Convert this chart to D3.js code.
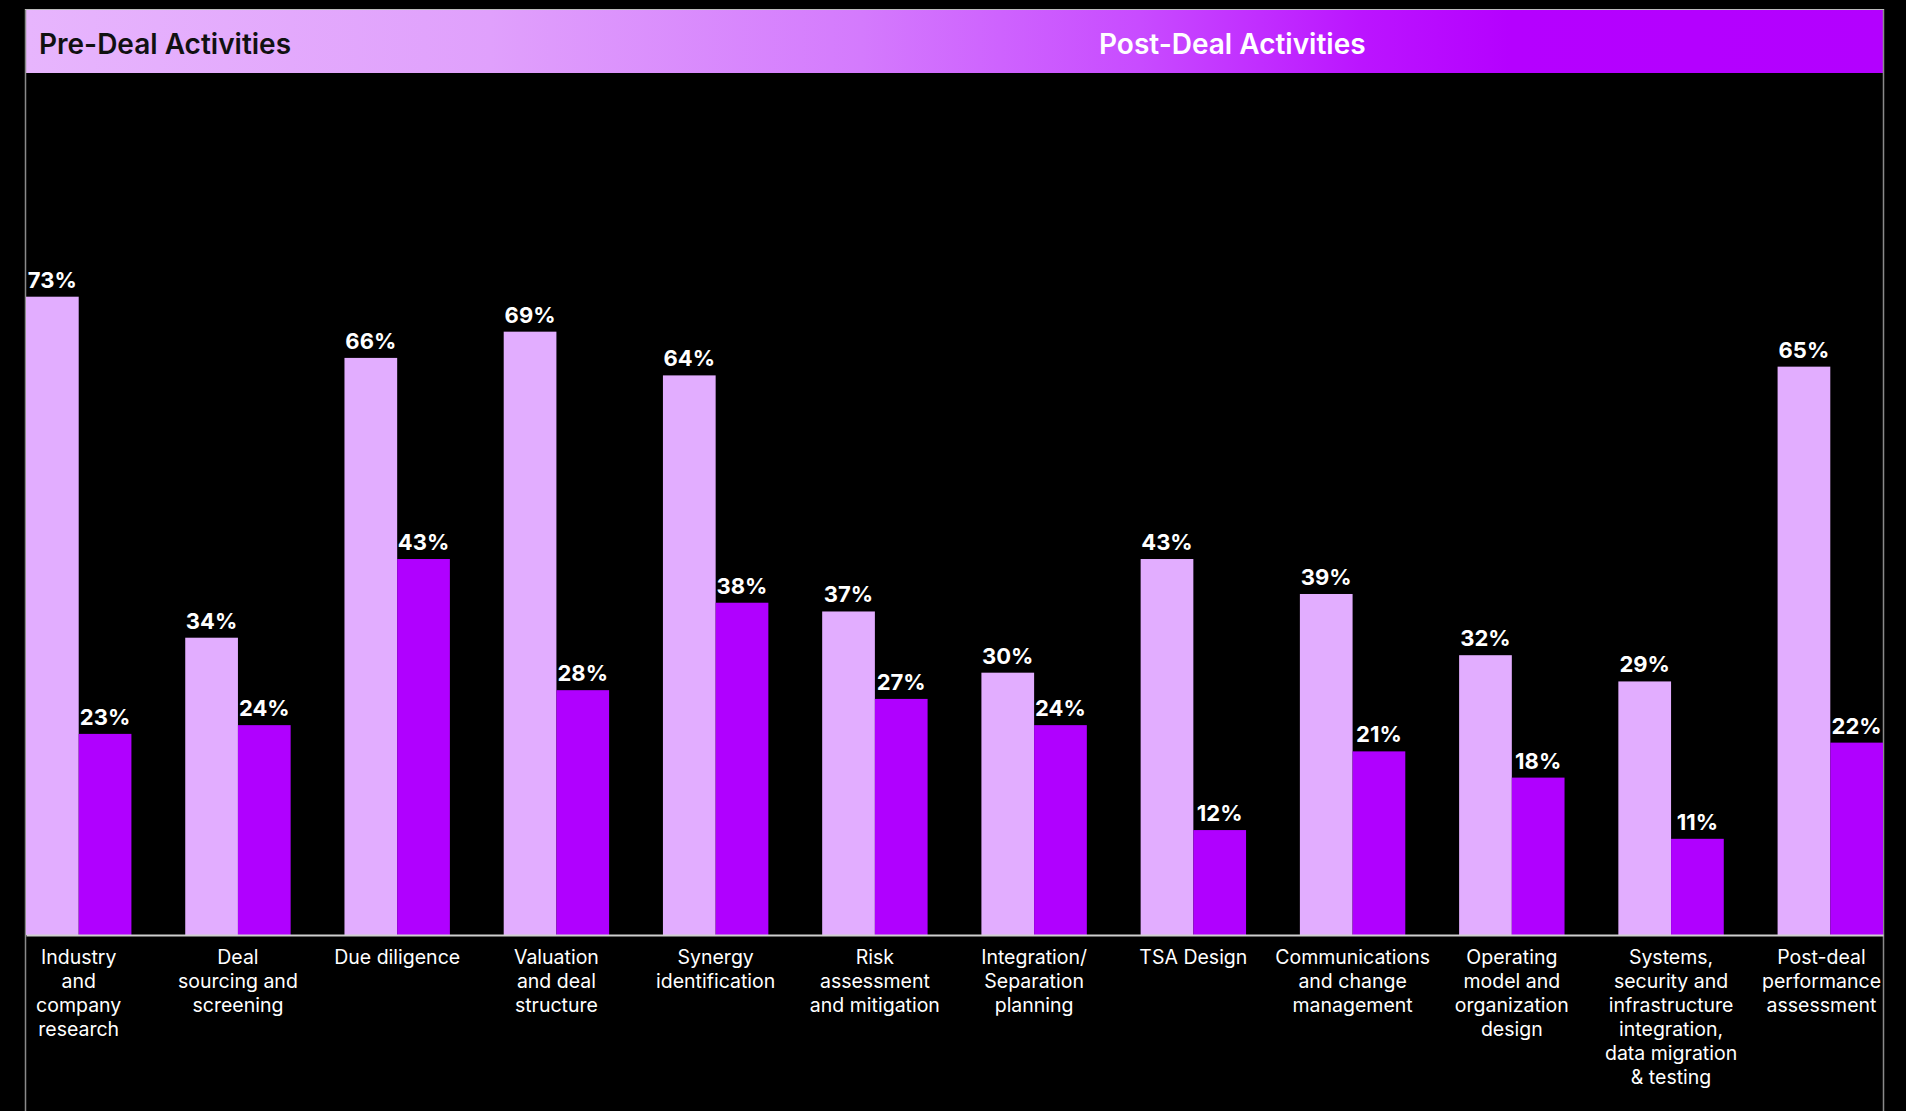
<!DOCTYPE html>
<html>
<head>
<meta charset="utf-8">
<script src="https://cdn.jsdelivr.net/npm/d3@7"></script>
<style>
  html, body { margin: 0; padding: 0; background: #000; }
  svg { display: block; }
</style>
</head>
<body>
<script>
// data
var categories = [
  ["Industry", "and", "company", "research"],
  ["Deal", "sourcing and", "screening"],
  ["Due diligence"],
  ["Valuation", "and deal", "structure"],
  ["Synergy", "identification"],
  ["Risk", "assessment", "and mitigation"],
  ["Integration/", "Separation", "planning"],
  ["TSA Design"],
  ["Communications", "and change", "management"],
  ["Operating", "model and", "organization", "design"],
  ["Systems,", "security and", "infrastructure", "integration,", "data migration", "& testing"],
  ["Post-deal", "performance", "assessment"]
];
var seriesA = [73, 34, 66, 69, 64, 37, 30, 43, 39, 32, 29, 65];
var seriesB = [23, 24, 43, 28, 38, 27, 24, 12, 21, 18, 11, 22];
var seriesNames = ["a", "b"];
var headerLabels = ["Pre-Deal Activities", "Post-Deal Activities"];

var width = 1906,
	height = 1111;
var left = 26, right = 1883, base = 935;
var colA = "#e2adff", colB = "#b000ff";
var fontFam = "Inter, 'Noto Sans', sans-serif";

var svg = d3.select("body").append("svg")
	.attr("width", width)
	.attr("height", height);

var ids = categories.map(function(d, i) { return i; });

var x = d3.scaleBand()
	.domain(ids)
	.range([left, right])
	.paddingInner(0.338)
	.paddingOuter(0);

var xSub = d3.scaleBand()
	.domain(seriesNames)
	.range([0, x.bandwidth()]);

var y = d3.scaleLinear()
	.domain([0, 73])
	.range([base, 296.7]);

// header gradient
var defs = svg.append("defs");
var grad = defs.append("linearGradient")
	.attr("id", "hdr")
	.attr("x1", "0%").attr("x2", "100%")
	.attr("y1", "0%").attr("y2", "0%");
[["0%", "#e7b5fd"], ["25%", "#e0a0fc"], ["45%", "#d47afd"], ["60%", "#c84bff"], ["72%", "#bb14ff"], ["80%", "#b500ff"], ["100%", "#b300ff"]]
	.forEach(function(s) {
		grad.append("stop").attr("offset", s[0]).attr("stop-color", s[1]);
	});

svg.append("rect")
	.attr("x", left)
	.attr("y", 10)
	.attr("width", right - left)
	.attr("height", 63)
	.attr("fill", "url(#hdr)");

// frame lines
svg.append("line")
	.attr("x1", left - 0.5).attr("x2", left - 0.5)
	.attr("y1", 9).attr("y2", height)
	.attr("stroke", "#8a8a8a").attr("stroke-width", 1.5);
svg.append("line")
	.attr("x1", right + 0.5).attr("x2", right + 0.5)
	.attr("y1", 9).attr("y2", height)
	.attr("stroke", "#8a8a8a").attr("stroke-width", 1.5);
svg.append("line")
	.attr("x1", left - 1).attr("x2", right + 1)
	.attr("y1", 9.5).attr("y2", 9.5)
	.attr("stroke", "#bbb").attr("stroke-width", 1);

svg.append("text")
	.attr("x", 39)
	.attr("y", 54)
	.attr("fill", "#111")
	.style("font-family", fontFam)
	.style("font-size", "28px")
	.style("font-weight", 600)
	.text(headerLabels[0]);

svg.append("text")
	.attr("x", 1099)
	.attr("y", 54)
	.attr("fill", "#fff")
	.style("font-family", fontFam)
	.style("font-size", "28px")
	.style("font-weight", 600)
	.text(headerLabels[1]);

// bars
var rows = ids.map(function(i) {
	return { id: i, vals: [{ k: "a", v: seriesA[i] }, { k: "b", v: seriesB[i] }] };
});

var group = svg.selectAll(".grp")
	.data(rows)
	.enter().append("g")
	.attr("class", "grp")
	.attr("transform", function(d) { return "translate(" + x(d.id) + ",0)"; });

group.selectAll("rect")
	.data(function(d) { return d.vals; })
	.enter().append("rect")
	.attr("x", function(d) { return xSub(d.k); })
	.attr("width", xSub.bandwidth())
	.attr("y", function(d) { return y(d.v); })
	.attr("height", function(d) { return base - y(d.v); })
	.attr("fill", function(d) { return d.k === "a" ? colA : colB; });

group.selectAll(".val")
	.data(function(d) { return d.vals; })
	.enter().append("text")
	.attr("class", "val")
	.attr("x", function(d) { return xSub(d.k) + xSub.bandwidth() / 2; })
	.attr("y", function(d) { return y(d.v) - 9; })
	.attr("text-anchor", "middle")
	.attr("fill", "#fff")
	.style("font-family", fontFam)
	.style("font-size", "22px")
	.style("font-weight", 700)
	.text(function(d) { return d.v + "%"; });

// axis with multi-line category labels
var axis = svg.append("g")
	.attr("transform", "translate(0," + base + ")")
	.call(d3.axisBottom(x).tickSize(0).tickSizeOuter(0).tickFormat(""));

axis.select(".domain")
	.attr("stroke", "#cfcfcf")
	.attr("stroke-width", 2);

axis.selectAll(".tick text").remove();

axis.selectAll(".tick").each(function(id) {
	var t = d3.select(this).append("text")
		.attr("text-anchor", "middle")
		.attr("fill", "#fff")
		.style("font-family", fontFam)
		.style("font-size", "19.5px")
		.style("font-weight", 400);
	categories[id].forEach(function(line, j) {
		t.append("tspan")
			.attr("x", 0)
			.attr("y", 28.5 + j * 24)
			.text(line);
	});
	// keep the label inside the frame
	var bb = this.getBBox();
	var cx = x(id) + x.bandwidth() / 2;
	var over = cx + bb.width / 2 - (right - 2);
	if (over > 0) t.attr("transform", "translate(" + (-over) + ",0)");
});
</script>
</body>
</html>
